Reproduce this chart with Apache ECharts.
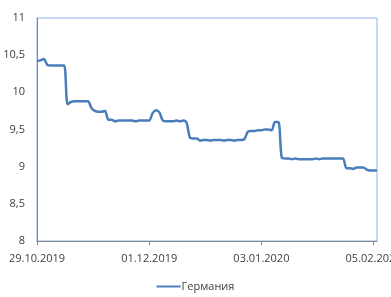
<!DOCTYPE html>
<html>
<head>
    <meta charset="utf-8">
    <title>Германия</title>
    <script src="https://cdn.jsdelivr.net/npm/echarts@6.0.0/dist/echarts.min.js"></script>
    <style>
        html, body { margin: 0; padding: 0; background: #fff; }
        #chart { width: 391px; height: 297px; }
    </style>
</head>
<body>
    <div id="chart"></div>
    <script>
        // данные по дням, начиная с 29.10.2019
        var startDate = '2019-10-29';
        var seriesName = 'Германия';
        var yTicks = [8, 8.5, 9, 9.5, 10, 10.5, 11];
        var labelStep = 33; // подпись каждые 33 дня
        var values = [
            10.42, 10.43, 10.45, 10.37, 10.36, 10.36, 10.36, 10.36, 10.36, 9.84,
            9.87, 9.88, 9.88, 9.88, 9.88, 9.88, 9.79, 9.75, 9.74, 9.74,
            9.75, 9.63, 9.63, 9.61, 9.62, 9.62, 9.62, 9.62, 9.62, 9.61,
            9.62, 9.62, 9.62, 9.62, 9.72, 9.76, 9.73, 9.62, 9.61, 9.61,
            9.61, 9.62, 9.61, 9.62, 9.59, 9.39, 9.38, 9.38, 9.35, 9.36,
            9.36, 9.35, 9.36, 9.36, 9.36, 9.35, 9.36, 9.36, 9.35, 9.36,
            9.36, 9.37, 9.47, 9.48, 9.48, 9.49, 9.49, 9.50, 9.50, 9.49,
            9.60, 9.60, 9.12, 9.11, 9.11, 9.10, 9.11, 9.10, 9.10, 9.10,
            9.10, 9.10, 9.11, 9.10, 9.11, 9.11, 9.11, 9.11, 9.11, 9.11,
            9.11, 8.98, 8.98, 8.97, 8.99, 8.99, 8.99, 8.96, 8.95, 8.95,
            8.95
        ];

        // подписи дат для категорий
        function pad(n) { return n < 10 ? '0' + n : '' + n; }
        var dates = [];
        var t0 = Date.parse(startDate + 'T00:00:00Z');
        for (var i = 0; i < values.length; i++) {
            var d = new Date(t0 + i * 86400000);
            dates.push(pad(d.getUTCDate()) + '.' + pad(d.getUTCMonth() + 1) + '.' + d.getUTCFullYear());
        }
        function every(idx) { return idx % labelStep === 0; }

        var chart = echarts.init(document.getElementById('chart'), null, { renderer: 'canvas' });
        var font = '"Open Sans", "Noto Sans", sans-serif';
        var option = {
            animation: false,
            textStyle: { fontFamily: font },
            grid: {
                left: 37, right: 14, top: 18, bottom: 56,
                outerBoundsMode: 'none',
                containLabel: false,
                show: true,
                borderColor: '#8EB4E3',
                borderWidth: 1
            },
            legend: {
                data: [seriesName],
                bottom: 0,
                left: 'center',
                icon: 'rect',
                itemWidth: 24,
                itemHeight: 2,
                itemGap: 0,
                textStyle: { fontSize: 11, color: '#404040', fontFamily: font, padding: [0, 0, 0, -4] }
            },
            xAxis: {
                type: 'category',
                data: dates,
                boundaryGap: false,
                axisLine: { lineStyle: { color: '#868686' } },
                axisTick: { interval: every, length: 4, lineStyle: { color: '#868686' } },
                axisLabel: {
                    interval: every,
                    margin: 12,
                    fontSize: 11,
                    color: '#404040',
                    fontFamily: font,
                    hideOverlap: false
                },
                splitLine: { show: false }
            },
            yAxis: {
                type: 'value',
                min: yTicks[0],
                max: yTicks[yTicks.length - 1],
                interval: 0.5,
                axisLine: { show: true, lineStyle: { color: '#868686' } },
                axisTick: { show: false },
                axisLabel: {
                    margin: 12,
                    fontSize: 11,
                    color: '#404040',
                    fontFamily: font,
                    formatter: function (v) { return String(v).replace('.', ','); }
                },
                splitLine: { show: false }
            },
            series: [
                {
                    name: seriesName,
                    type: 'line',
                    data: values,
                    symbol: 'none',
                    smooth: 0.3,
                    color: '#4A7EBB',
                    lineStyle: { width: 2.5, color: '#4A7EBB' }
                }
            ]
        };
        chart.setOption(option);
    </script>
</body>
</html>
